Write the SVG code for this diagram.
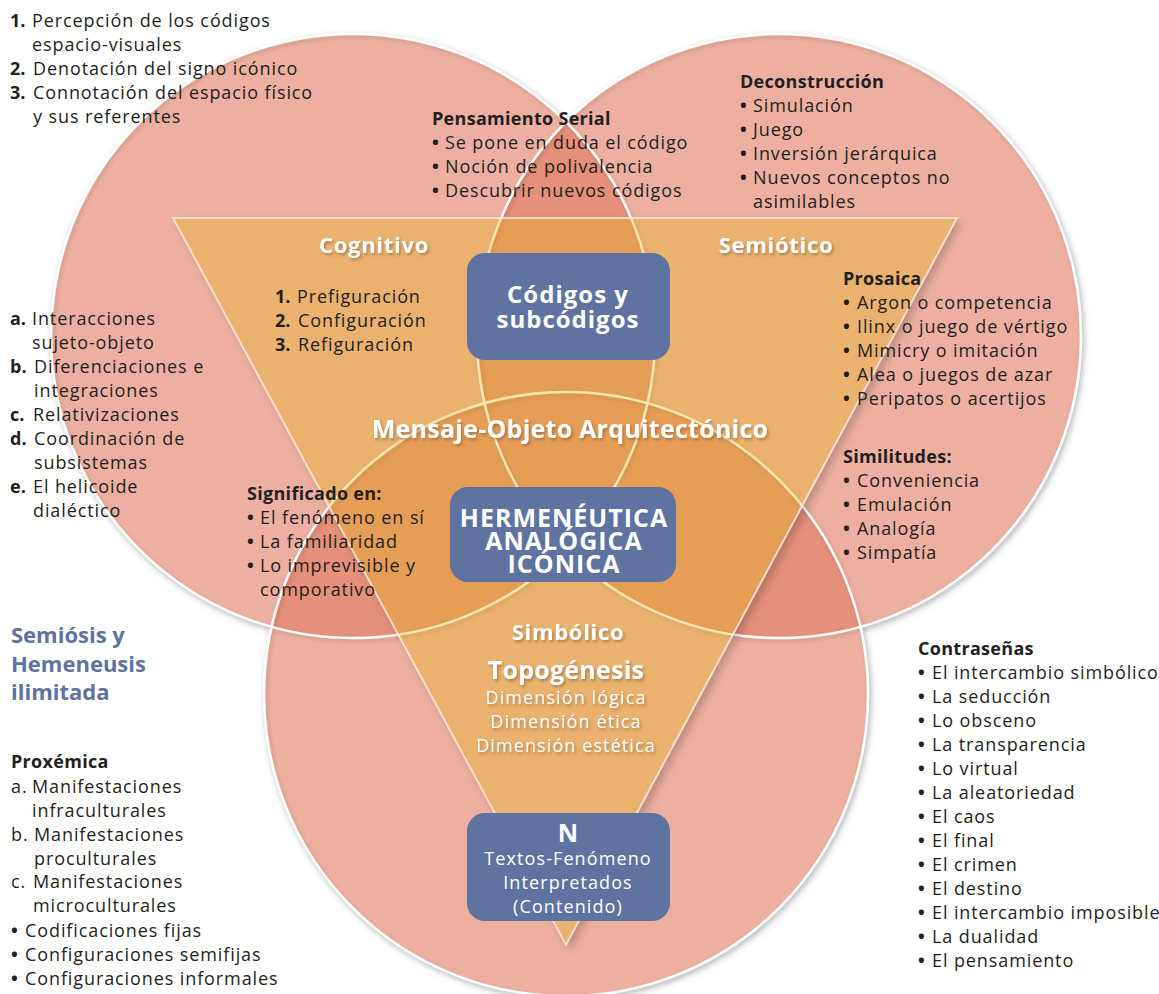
<svg xmlns="http://www.w3.org/2000/svg" width="1159" height="994" viewBox="0 0 1159 994">
  <style>
    text { font-family: "Open Sans", Lato, "DejaVu Sans", sans-serif; }
    .t { font-size: 18px; fill: #231F20; letter-spacing: 0.9px; }
    .h { font-size: 18px; font-weight: bold; fill: #231F20; letter-spacing: 0.3px; }
    .b { font-weight: bold; letter-spacing: 0; }
    .lbl { font-size: 22px; font-weight: bold; fill: #FFFFFF; text-anchor: middle; letter-spacing: 0.7px; }
    .big { font-size: 25px; letter-spacing: 0.25px; }
    .wt { font-size: 18px; fill: #FFFFFF; text-anchor: middle; letter-spacing: 1.1px; }
    .box { fill: #5F73A0; }
    .boxt { fill: #FFFFFF; text-anchor: middle; }
    .title { font-size: 22px; font-weight: bold; fill: #5E73A0; }
  </style>
  <defs>
    <filter id="circShadow" x="-10%" y="-10%" width="125%" height="125%">
      <feDropShadow dx="2" dy="3" stdDeviation="4" flood-color="#000" flood-opacity="0.22"/>
    </filter>
    <filter id="lineShadow" x="-10%" y="-10%" width="125%" height="125%">
      <feDropShadow dx="1.5" dy="2" stdDeviation="2" flood-color="#000" flood-opacity="0.18"/>
    </filter>
    <filter id="blur5" x="-10%" y="-10%" width="125%" height="125%">
      <feGaussianBlur stdDeviation="5"/>
    </filter>
    <filter id="txtShadow" x="-10%" y="-30%" width="125%" height="170%">
      <feDropShadow dx="1.5" dy="2" stdDeviation="1.8" flood-color="#5a3a20" flood-opacity="0.45"/>
    </filter>
    <clipPath id="clipL"><circle cx="353" cy="336" r="302"/></clipPath>
    <clipPath id="clipR"><circle cx="779" cy="336" r="302"/></clipPath>
    <mask id="outsideTri">
      <rect x="0" y="0" width="1159" height="994" fill="#fff"/>
      <polygon points="173,218 957,218 566,945" fill="#000"/>
    </mask>
  </defs>

  <!-- three circles -->
  <g id="circles">
    <g filter="url(#circShadow)" fill="#EDB0A0">
      <circle cx="353" cy="336" r="302"/>
      <circle cx="779" cy="336" r="302"/>
      <circle cx="566" cy="694" r="302"/>
    </g>
    <!-- pairwise overlaps -->
    <g fill="#E5907B">
      <circle cx="779" cy="336" r="302" clip-path="url(#clipL)"/>
      <circle cx="566" cy="694" r="302" clip-path="url(#clipL)"/>
      <circle cx="566" cy="694" r="302" clip-path="url(#clipR)"/>
    </g>
    <g fill="none" stroke="#FFFFFF" stroke-width="2.5" filter="url(#lineShadow)">
      <circle cx="353" cy="336" r="302"/>
      <circle cx="779" cy="336" r="302"/>
      <circle cx="566" cy="694" r="302"/>
    </g>
  </g>

  <!-- inverted triangle -->
  <g id="triangle">
    <polygon points="177,222 961,222 570,950" fill="#000" opacity="0.22" filter="url(#blur5)" mask="url(#outsideTri)"/>
    <polygon points="173,218 957,218 566,945" fill="rgb(231,182,16)" fill-opacity="0.344" stroke="#FBE6DA" stroke-opacity="0.85" stroke-width="2"/>
  </g>

  <g id="connectors"/>

  <!-- corner labels of the triangle -->
  <g id="labels" filter="url(#txtShadow)">
    <text class="lbl" x="374" y="253">Cognitivo</text>
    <text class="lbl" x="776" y="253">Semiótico</text>
    <text class="lbl big" x="570" y="438">Mensaje-Objeto Arquitectónico</text>
    <text class="lbl" x="568" y="640">Simbólico</text>
  </g>

  <g id="topogenesis" filter="url(#txtShadow)">
    <text class="lbl big" x="566" y="679">Topogénesis</text>
    <text class="wt" x="566" y="704">Dimensión lógica</text>
    <text class="wt" x="566" y="728">Dimensión ética</text>
    <text class="wt" x="566" y="752">Dimensión estética</text>
  </g>

  <!-- blue boxes -->
  <g id="codigos">
    <rect class="box" x="467" y="253" width="203" height="107" rx="18"/>
    <text class="boxt" x="568" y="303" font-size="24" font-weight="bold" letter-spacing="1">Códigos y</text>
    <text class="boxt" x="568" y="328" font-size="24" font-weight="bold" letter-spacing="1">subcódigos</text>
  </g>

  <g id="hermeneutica">
    <rect class="box" x="450" y="487" width="226" height="95" rx="18"/>
    <text class="boxt" x="564" y="527" font-size="25" font-weight="bold" letter-spacing="1">HERMENÉUTICA</text>
    <text class="boxt" x="564" y="550" font-size="25" font-weight="bold" letter-spacing="1">ANALÓGICA</text>
    <text class="boxt" x="564" y="573" font-size="25" font-weight="bold" letter-spacing="1">ICÓNICA</text>
  </g>

  <g id="textos">
    <rect class="box" x="467" y="813" width="203" height="108" rx="18"/>
    <text class="boxt" x="568" y="842" font-size="25" font-weight="bold">N</text>
    <text class="boxt" x="568" y="865" font-size="18" letter-spacing="1.1">Textos-Fenómeno</text>
    <text class="boxt" x="568" y="889" font-size="18" letter-spacing="1.1">Interpretados</text>
    <text class="boxt" x="568" y="913" font-size="18" letter-spacing="1.1">(Contenido)</text>
  </g>

  <!-- text blocks -->
  <g id="percepcion" class="t">
    <text x="10" y="27"><tspan class="b">1.</tspan><tspan x="32">Percepción de los códigos</tspan></text>
    <text x="32" y="51">espacio-visuales</text>
    <text x="10" y="75"><tspan class="b">2.</tspan><tspan x="33">Denotación del signo icónico</tspan></text>
    <text x="10" y="99"><tspan class="b">3.</tspan><tspan x="33">Connotación del espacio físico</tspan></text>
    <text x="33" y="123">y sus referentes</text>
  </g>

  <g id="pensamiento" class="t">
    <text class="h" x="432" y="125">Pensamiento Serial</text>
    <text x="432" y="149"><tspan class="b">•</tspan><tspan x="445">Se pone en duda el código</tspan></text>
    <text x="432" y="173"><tspan class="b">•</tspan><tspan x="445">Noción de polivalencia</tspan></text>
    <text x="432" y="197"><tspan class="b">•</tspan><tspan x="445">Descubrir nuevos códigos</tspan></text>
  </g>

  <g id="deconstruccion" class="t">
    <text class="h" x="740" y="88">Deconstrucción</text>
    <text x="740" y="112"><tspan class="b">•</tspan><tspan x="753">Simulación</tspan></text>
    <text x="740" y="136"><tspan class="b">•</tspan><tspan x="753">Juego</tspan></text>
    <text x="740" y="160"><tspan class="b">•</tspan><tspan x="753">Inversión jerárquica</tspan></text>
    <text x="740" y="184"><tspan class="b">•</tspan><tspan x="753">Nuevos conceptos no</tspan></text>
    <text x="753" y="208">asimilables</text>
  </g>

  <g id="figuracion" class="t">
    <text x="275" y="303"><tspan class="b">1.</tspan><tspan x="297">Prefiguración</tspan></text>
    <text x="275" y="327"><tspan class="b">2.</tspan><tspan x="298">Configuración</tspan></text>
    <text x="275" y="351"><tspan class="b">3.</tspan><tspan x="298">Refiguración</tspan></text>
  </g>

  <g id="interacciones" class="t">
    <text x="10" y="325"><tspan class="b">a.</tspan><tspan x="32">Interacciones</tspan></text>
    <text x="32" y="349">sujeto-objeto</text>
    <text x="10" y="373"><tspan class="b">b.</tspan><tspan x="34">Diferenciaciones e</tspan></text>
    <text x="34" y="397">integraciones</text>
    <text x="10" y="421"><tspan class="b">c.</tspan><tspan x="33">Relativizaciones</tspan></text>
    <text x="10" y="445"><tspan class="b">d.</tspan><tspan x="34">Coordinación de</tspan></text>
    <text x="34" y="469">subsistemas</text>
    <text x="10" y="493"><tspan class="b">e.</tspan><tspan x="33">El helicoide</tspan></text>
    <text x="33" y="517">dialéctico</text>
  </g>

  <g id="significado" class="t">
    <text class="h" x="247" y="500">Significado en:</text>
    <text x="247" y="524"><tspan class="b">•</tspan><tspan x="260">El fenómeno en sí</tspan></text>
    <text x="247" y="548"><tspan class="b">•</tspan><tspan x="260">La familiaridad</tspan></text>
    <text x="247" y="572"><tspan class="b">•</tspan><tspan x="260">Lo imprevisible y</tspan></text>
    <text x="260" y="596">comporativo</text>
  </g>

  <g id="prosaica" class="t">
    <text class="h" x="843" y="285">Prosaica</text>
    <text x="843" y="309"><tspan class="b">•</tspan><tspan x="857">Argon o competencia</tspan></text>
    <text x="843" y="333"><tspan class="b">•</tspan><tspan x="857">Ilinx o juego de vértigo</tspan></text>
    <text x="843" y="357"><tspan class="b">•</tspan><tspan x="857">Mimicry o imitación</tspan></text>
    <text x="843" y="381"><tspan class="b">•</tspan><tspan x="857">Alea o juegos de azar</tspan></text>
    <text x="843" y="405"><tspan class="b">•</tspan><tspan x="857">Peripatos o acertijos</tspan></text>
  </g>

  <g id="similitudes" class="t">
    <text class="h" x="843" y="463">Similitudes:</text>
    <text x="843" y="487"><tspan class="b">•</tspan><tspan x="857">Conveniencia</tspan></text>
    <text x="843" y="511"><tspan class="b">•</tspan><tspan x="857">Emulación</tspan></text>
    <text x="843" y="535"><tspan class="b">•</tspan><tspan x="857">Analogía</tspan></text>
    <text x="843" y="559"><tspan class="b">•</tspan><tspan x="857">Simpatía</tspan></text>
  </g>

  <g id="semiosis" class="title">
    <text x="11" y="643">Semiósis y</text>
    <text x="11" y="672">Hemeneusis</text>
    <text x="11" y="700">ilimitada</text>
  </g>

  <g id="proxemica" class="t">
    <text class="h" x="11" y="768">Proxémica</text>
    <text x="11" y="793">a.<tspan x="32">Manifestaciones</tspan></text>
    <text x="32" y="817">infraculturales</text>
    <text x="11" y="841">b.<tspan x="34">Manifestaciones</tspan></text>
    <text x="34" y="865">proculturales</text>
    <text x="11" y="888">c.<tspan x="33">Manifestaciones</tspan></text>
    <text x="33" y="912">microculturales</text>
    <text x="11" y="937"><tspan class="b">•</tspan><tspan x="25">Codificaciones fijas</tspan></text>
    <text x="11" y="961"><tspan class="b">•</tspan><tspan x="25">Configuraciones semifijas</tspan></text>
    <text x="11" y="985"><tspan class="b">•</tspan><tspan x="25">Configuraciones informales</tspan></text>
  </g>

  <g id="contrasenas" class="t">
    <text class="h" x="918" y="655">Contraseñas</text>
    <text x="918" y="679"><tspan class="b">•</tspan><tspan x="932">El intercambio simbólico</tspan></text>
    <text x="918" y="703"><tspan class="b">•</tspan><tspan x="932">La seducción</tspan></text>
    <text x="918" y="727"><tspan class="b">•</tspan><tspan x="932">Lo obsceno</tspan></text>
    <text x="918" y="751"><tspan class="b">•</tspan><tspan x="932">La transparencia</tspan></text>
    <text x="918" y="775"><tspan class="b">•</tspan><tspan x="932">Lo virtual</tspan></text>
    <text x="918" y="799"><tspan class="b">•</tspan><tspan x="932">La aleatoriedad</tspan></text>
    <text x="918" y="823"><tspan class="b">•</tspan><tspan x="932">El caos</tspan></text>
    <text x="918" y="847"><tspan class="b">•</tspan><tspan x="932">El final</tspan></text>
    <text x="918" y="871"><tspan class="b">•</tspan><tspan x="932">El crimen</tspan></text>
    <text x="918" y="895"><tspan class="b">•</tspan><tspan x="932">El destino</tspan></text>
    <text x="918" y="919"><tspan class="b">•</tspan><tspan x="932">El intercambio imposible</tspan></text>
    <text x="918" y="943"><tspan class="b">•</tspan><tspan x="932">La dualidad</tspan></text>
    <text x="918" y="967"><tspan class="b">•</tspan><tspan x="932">El pensamiento</tspan></text>
  </g>
</svg>
